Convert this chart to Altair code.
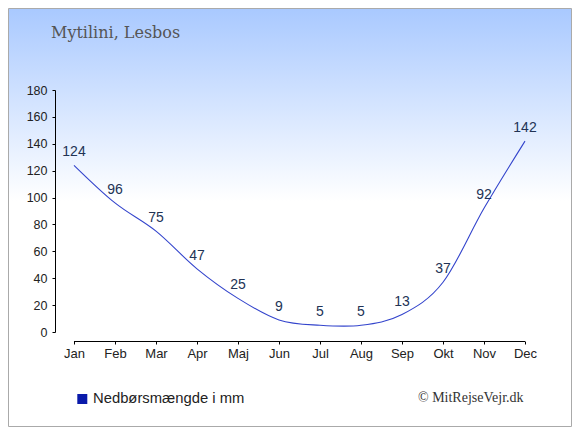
import altair as alt
import pandas as pd

months = ["Jan", "Feb", "Mar", "Apr", "Maj", "Jun", "Jul", "Aug", "Sep", "Okt", "Nov", "Dec"]
precip = [124, 96, 75, 47, 25, 9, 5, 5, 13, 37, 92, 142]
y_ticks = [0, 20, 40, 60, 80, 100, 120, 140, 160, 180]
title_text = "Mytilini, Lesbos"
legend_label = "Nedbørsmængde i mm"
credit_text = "© MitRejseVejr.dk"

df = pd.DataFrame({"idx": list(range(len(months))), "month": months, "mm": precip})

W, H = 470, 242
PL, PT = 47, 82
TOTAL_W, TOTAL_H = 564, 419
PR = TOTAL_W - PL - W
PB = TOTAL_H - PT - H

month_expr = "[" + ",".join(f"'{m}'" for m in months) + "][datum.value]"

x_scale = alt.Scale(domain=[-0.463, 11], nice=False, zero=False)
y_scale = alt.Scale(domain=[0, 180], nice=False, zero=True)

x_axis = alt.Axis(values=list(range(len(months))), labelExpr=month_expr, domain=False,
                  ticks=True, tickSize=3, tickColor="#000000", offset=9, labelPadding=3,
                  labelFont="Liberation Sans", labelFontSize=13, labelColor="#222222",
                  grid=False, title=None, zindex=2, labelAngle=0, labelFlush=False,
                  labelOverlap=False)
y_axis = alt.Axis(values=y_ticks, domain=True, domainColor="#000000", ticks=True, tickSize=3,
                  tickColor="#000000", labelPadding=5, labelFont="Liberation Sans",
                  labelFontSize=12.5, labelColor="#222222", grid=False, title=None, zindex=2,
                  labelFlush=False, labelOverlap=False)

bg = alt.Chart(pd.DataFrame({"a": [0]})).mark_rect(
    fill=alt.LinearGradient(
        gradient="linear", x1=0, x2=0, y1=0, y2=1,
        stops=[alt.GradientStop(color="#A9C9FF", offset=0),
               alt.GradientStop(color="#FFFFFF", offset=0.46),
               alt.GradientStop(color="#FFFFFF", offset=1)]),
    stroke="#AAAAAA", strokeWidth=1
).encode(x=alt.value(-PL + 0.5), x2=alt.value(W + PR - 0.5),
         y=alt.value(-PT + 0.5), y2=alt.value(H + PB - 0.5))

line = alt.Chart(df).mark_line(interpolate="cardinal", color="#3344CC", strokeWidth=1.1).encode(
    x=alt.X("idx:Q", scale=x_scale, axis=x_axis),
    y=alt.Y("mm:Q", scale=y_scale, axis=y_axis),
)

xrule = alt.Chart(df).mark_rule(color="#000000", strokeWidth=1).encode(
    x=alt.X("min(idx):Q", scale=x_scale, axis=x_axis),
    x2="max(idx):Q",
    y=alt.value(H + 9.5),
)

labels = alt.Chart(df).mark_text(baseline="alphabetic", dy=-9, font="Liberation Sans",
                                 fontSize=14, color="#223355").encode(
    x=alt.X("idx:Q", scale=x_scale, axis=x_axis),
    y=alt.Y("mm:Q", scale=y_scale, axis=y_axis),
    text="mm:Q",
)

title = alt.Chart(pd.DataFrame({"t": [title_text]})).mark_text(
    align="left", baseline="alphabetic", font="DejaVu Serif", fontSize=16, color="#555555"
).encode(x=alt.value(-4), y=alt.value(-51.7), text="t:N")

leg_df = pd.DataFrame({"label": [legend_label]})
leg_sq = alt.Chart(leg_df).mark_square(size=100, color="#0A1AAA", opacity=1, filled=True).encode(
    x=alt.value(27.3), y=alt.value(309))
leg_txt = alt.Chart(leg_df).mark_text(
    align="left", baseline="alphabetic", font="Liberation Sans", fontSize=14.8, color="#222222"
).encode(x=alt.value(38), y=alt.value(313.3), text="label:N")

credit = alt.Chart(pd.DataFrame({"c": [credit_text]})).mark_text(
    align="left", baseline="alphabetic", font="Liberation Serif", fontSize=14, color="#333333"
).encode(x=alt.value(363), y=alt.value(312), text="c:N")

chart = alt.layer(bg, line, xrule, labels, title, leg_sq, leg_txt, credit).properties(
    width=W, height=H,
    padding={"left": PL, "top": PT, "right": PR, "bottom": PB},
    autosize=alt.AutoSizeParams(type="none"),
).configure_view(strokeWidth=0).configure(background="#FFFFFF")

chart.save("out.html", embed_options={"renderer": "svg", "actions": False})
